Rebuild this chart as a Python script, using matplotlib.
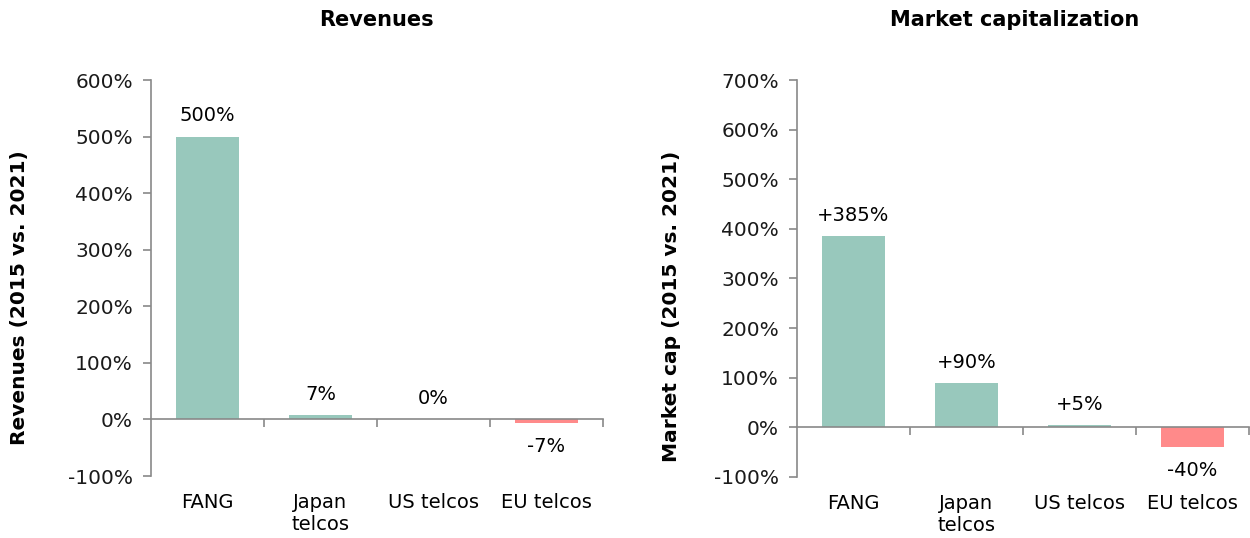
import matplotlib.pyplot as plt
import numpy as np

categories = ["FANG", "Japan\ntelcos", "US telcos", "EU telcos"]
revenues = [500, 7, 0, -7]
revenue_labels = ["500%", "7%", "0%", "-7%"]
market_cap = [385, 90, 5, -40]
market_cap_labels = ["+385%", "+90%", "+5%", "-40%"]

rev_ticks = np.arange(-100, 601, 100)
cap_ticks = np.arange(-100, 701, 100)

teal = "#98C8BC"
red = "#FF8A8A"
grey = "#898989"
fs = 14

plt.rcParams['font.family'] = ['DejaVu Sans']
fig = plt.figure(figsize=(12.5, 5.38), dpi=100)

ax1 = fig.add_axes([0.1208, 0.1152, 0.3616, 0.7361])
ax2 = fig.add_axes([0.6376, 0.1134, 0.3616, 0.7379])


def draw(ax, values, labels, yticks, ylabel, ylab_pos):
    x = np.arange(len(values))
    colors = [teal if v >= 0 else red for v in values]
    bars = ax.bar(x, values, width=0.56, color=colors, zorder=2)
    for b, v, lab in zip(bars, values, labels):
        if v >= 0:
            ax.annotate(lab, (b.get_x() + b.get_width() / 2, v), xytext=(0, 8),
                        textcoords="offset points", ha="center", va="bottom", fontsize=fs)
        else:
            ax.annotate(lab, (b.get_x() + b.get_width() / 2, v), xytext=(0, -10),
                        textcoords="offset points", ha="center", va="top", fontsize=fs)
    ax.set_xlim(-0.5, 3.5)
    ax.set_ylim(yticks[0], yticks[-1])
    ax.set_yticks(yticks)
    ax.set_yticklabels([f"{v}%" for v in yticks])
    ax.set_xticks(x)
    ax.set_xticklabels(categories, linespacing=1.0)
    ax.set_xticks(np.arange(0.5, 4, 1), minor=True)
    ax.xaxis.set_ticks_position("bottom")
    ax.tick_params(axis="x", which="major", length=0, pad=12, labelsize=fs)
    ax.tick_params(axis="y", length=6, color=grey, width=1.2, pad=7, labelsize=14.5,
                   labelcolor="#1a1a1a")

    # category separators along the zero line
    ax.spines["top"].set_position(("data", 0))
    ax.spines["top"].set_color(grey)
    ax.spines["top"].set_linewidth(1.2)
    ax.spines["top"].set_zorder(3)
    ax.tick_params(axis="x", which="minor", top=True, bottom=False, direction="in",
                   length=6, color=grey, width=1.2)

    ax.spines["bottom"].set_visible(False)
    ax.spines["right"].set_visible(False)
    ax.spines["left"].set_color(grey)
    ax.spines["left"].set_linewidth(1.2)

    ax.set_ylabel(ylabel, fontsize=14.5, fontweight="bold")
    ax.yaxis.set_label_coords(*ylab_pos)


draw(ax1, revenues, revenue_labels, rev_ticks, "Revenues (2015 vs. 2021)", (-0.27, 0.45))
draw(ax2, market_cap, market_cap_labels, cap_ticks, "Market cap (2015 vs. 2021)", (-0.257, 0.43))

fig.text(376 / 1250, 1 - 20 / 538, "Revenues", ha="center", va="center",
         fontsize=15, fontweight="bold")
fig.text(1015 / 1250, 1 - 20 / 538, "Market capitalization", ha="center", va="center",
         fontsize=15, fontweight="bold")

fig.savefig("out.png", dpi=100)
